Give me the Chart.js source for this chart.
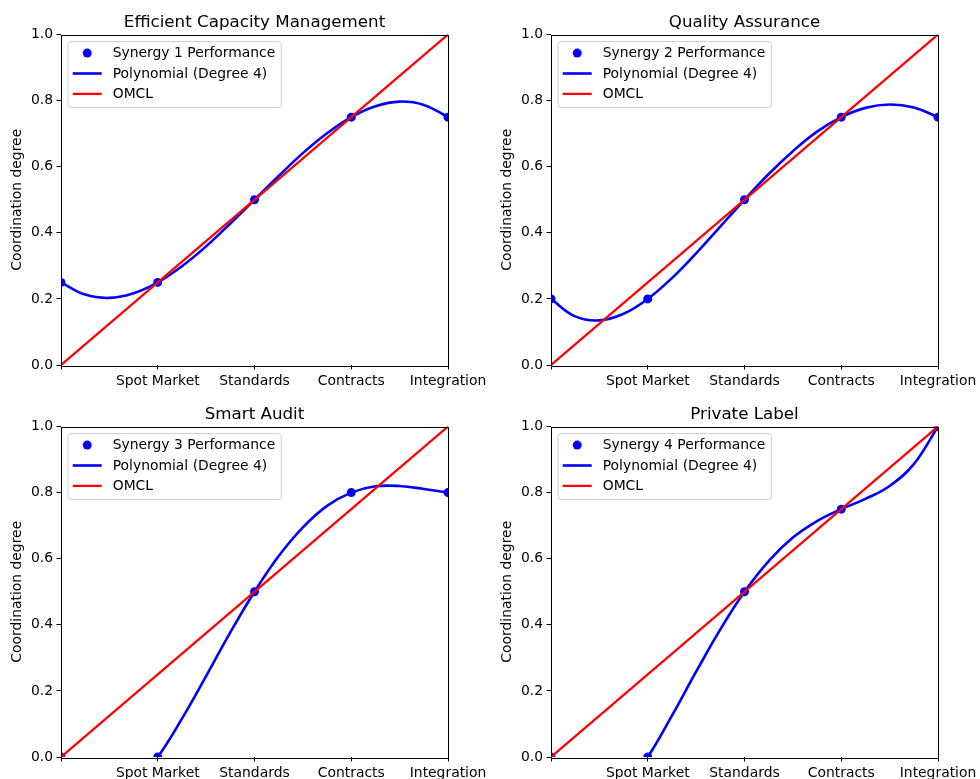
<!DOCTYPE html>
<html>
<head>
    <meta charset="utf-8">
    <script src="https://cdn.jsdelivr.net/npm/chart.js"></script>
    <style>
        body { margin: 0; background: #fff; }
        #wrap { position: relative; width: 980px; height: 779px; }
        #wrap canvas { position: absolute; }
    </style>
</head>
<body>
<div id="wrap">
    <canvas id="c1" width="490" height="390" style="left:0px;top:0px"></canvas>
    <canvas id="c2" width="490" height="390" style="left:490px;top:0px"></canvas>
    <canvas id="c3" width="490" height="390" style="left:0px;top:392px"></canvas>
    <canvas id="c4" width="490" height="390" style="left:490px;top:392px"></canvas>
</div>
<script>
    // categories on the x axis (tick at 0 has no label)
    const xTickLabels = ['', 'Spot Market', 'Standards', 'Contracts', 'Integration'];
    const yTicks = [0, 0.2, 0.4, 0.6, 0.8, 1.0];
    const panelTitles = ['Efficient Capacity Management', 'Quality Assurance', 'Smart Audit', 'Private Label'];
    const seriesNames = ['Synergy 1 Performance', 'Synergy 2 Performance', 'Synergy 3 Performance', 'Synergy 4 Performance'];

    // observed points
    const pointX = [0, 1, 2, 3, 4];
    const synergy1 = [0.25, 0.25, 0.5, 0.75, 0.75];
    const synergy2 = [0.2, 0.2, 0.5, 0.75, 0.75];
    const synergy3 = [0, 0, 0.5, 0.8, 0.8];
    const synergy4 = [0, 0, 0.5, 0.75, 1.0];

    // degree 4 curve, every quarter step
    const fitX = [0, 0.25, 0.5, 0.75, 1, 1.25, 1.5, 1.75, 2, 2.25, 2.5, 2.75, 3, 3.25, 3.5, 3.75, 4];
    const fit1 = [0.25, 0.213, 0.203, 0.217, 0.25, 0.299, 0.359, 0.428, 0.5, 0.572, 0.641, 0.701, 0.75, 0.783, 0.797, 0.787, 0.75];
    const fit2 = [0.2, 0.147, 0.135, 0.155, 0.2, 0.263, 0.338, 0.419, 0.5, 0.578, 0.647, 0.706, 0.75, 0.778, 0.788, 0.779, 0.75];
    const fit3 = [0, -0.108, -0.130, -0.087, 0, 0.116, 0.245, 0.377, 0.5, 0.608, 0.695, 0.760, 0.8, 0.819, 0.820, 0.811, 0.8];
    const fit4 = [0, -0.126, -0.148, -0.098, 0, 0.125, 0.258, 0.386, 0.5, 0.593, 0.664, 0.714, 0.75, 0.781, 0.820, 0.886, 1.0];

    // OMCL reference line
    const omclX = [0, 4];
    const omclY = [0, 1];

    const pointSets = [synergy1, synergy2, synergy3, synergy4];
    const fitSets = [fit1, fit2, fit3, fit4];

    const FONT = "'DejaVu Sans', sans-serif";
    const BLUE = '#0000ff';
    const RED = '#ff0000';

    // box around the axes, drawn over the lines like matplotlib spines
    const framePlugin = {
        id: 'axesFrame',
        afterDatasetsDraw(chart) {
            const { ctx, chartArea: a } = chart;
            ctx.save();
            ctx.strokeStyle = '#000';
            ctx.lineWidth = 1;
            ctx.strokeRect(Math.round(a.left) + 0.5, Math.round(a.top) + 0.5,
                Math.round(a.right - a.left), Math.round(a.bottom - a.top));
            ctx.restore();
        }
    };

    // title centred over the axes, not over the canvas
    const axesTitlePlugin = {
        id: 'axesTitle',
        afterDraw(chart, args, opts) {
            const { ctx, chartArea: a } = chart;
            ctx.save();
            ctx.font = '16.7px ' + FONT;
            ctx.fillStyle = '#000';
            ctx.textAlign = 'center';
            ctx.textBaseline = 'alphabetic';
            ctx.fillText(opts.text, (a.left + a.right) / 2, 26.5);
            ctx.restore();
        }
    };

    // legend box in the upper left corner of the axes
    const legendPlugin = {
        id: 'innerLegend',
        afterDraw(chart) {
            const { ctx, chartArea: a } = chart;
            const ds = chart.data.datasets;
            ctx.save();
            ctx.font = '13.9px ' + FONT;
            let maxW = 0;
            ds.forEach(d => { maxW = Math.max(maxW, ctx.measureText(d.label).width); });
            const x0 = a.left + 7, y0 = a.top + 7;
            const w = 44.7 + maxW + 6, h = 66;
            ctx.beginPath();
            ctx.roundRect(x0, y0, w, h, 3);
            ctx.fillStyle = 'rgba(255,255,255,0.8)';
            ctx.fill();
            ctx.strokeStyle = '#d0d0d0';
            ctx.lineWidth = 1;
            ctx.stroke();
            ds.forEach((d, i) => {
                const cy = y0 + 11.6 + i * 20.4;
                if (d.showLine) {
                    ctx.beginPath();
                    ctx.moveTo(x0 + 4.7, cy);
                    ctx.lineTo(x0 + 33.7, cy);
                    ctx.strokeStyle = d.borderColor;
                    ctx.lineWidth = d.borderWidth;
                    ctx.stroke();
                } else {
                    ctx.beginPath();
                    ctx.arc(x0 + 19.2, cy, 4.5, 0, Math.PI * 2);
                    ctx.fillStyle = d.backgroundColor;
                    ctx.fill();
                }
                ctx.fillStyle = '#000';
                ctx.textBaseline = 'middle';
                ctx.textAlign = 'left';
                ctx.fillText(d.label, x0 + 44.7, cy + 0.5);
            });
            ctx.restore();
        }
    };

    function makeChart(id, k) {
        const data = {
            datasets: [
                {
                    label: seriesNames[k],
                    data: pointX.map((x, i) => ({ x: x, y: pointSets[k][i] })),
                    showLine: false,
                    pointRadius: 4.5,
                    pointBorderWidth: 0,
                    backgroundColor: BLUE,
                    borderColor: BLUE,
                    order: 3,
                    clip: 0
                },
                {
                    label: 'Polynomial (Degree 4)',
                    data: fitX.map((x, i) => ({ x: x, y: fitSets[k][i] })),
                    showLine: true,
                    pointRadius: 0,
                    borderColor: BLUE,
                    borderWidth: 2.6,
                    tension: 0.4,
                    order: 2,
                    clip: 0
                },
                {
                    label: 'OMCL',
                    data: omclX.map((x, i) => ({ x: x, y: omclY[i] })),
                    showLine: true,
                    pointRadius: 0,
                    borderColor: RED,
                    borderWidth: 2.3,
                    order: 1,
                    clip: 0
                }
            ]
        };

        const config = {
            type: 'scatter',
            data: data,
            options: {
                responsive: false,
                animation: false,
                devicePixelRatio: 1,
                layout: { padding: { left: 0, right: 42, top: 34.5, bottom: 0 } },
                elements: { line: { capBezierPoints: false } },
                plugins: {
                    legend: { display: false },
                    tooltip: { enabled: false },
                    title: { display: false },
                    axesTitle: { text: panelTitles[k] }
                },
                scales: {
                    x: {
                        type: 'linear',
                        min: 0,
                        max: 4,
                        afterFit: s => { s.height = 25; },
                        afterBuildTicks: s => { s.ticks = xTickLabels.map((_, i) => ({ value: i })); },
                        ticks: {
                            autoSkip: false,
                            maxRotation: 0,
                            padding: 3.5,
                            color: '#000',
                            font: { family: FONT, size: 13.9 },
                            callback: v => xTickLabels[v]
                        },
                        grid: { display: true, drawOnChartArea: false, drawTicks: true, tickLength: 4.5, color: '#000' },
                        border: { display: false }
                    },
                    y: {
                        min: 0,
                        max: 1,
                        afterFit: s => { s.width = 61; },
                        afterBuildTicks: s => { s.ticks = yTicks.map(v => ({ value: v })); },
                        ticks: {
                            padding: 3.5,
                            color: '#000',
                            font: { family: FONT, size: 13.9 },
                            callback: v => Number(v).toFixed(1)
                        },
                        grid: { display: true, drawOnChartArea: false, drawTicks: true, tickLength: 4.5, color: '#000' },
                        border: { display: false },
                        title: {
                            display: true,
                            text: 'Coordination degree',
                            color: '#000',
                            font: { family: FONT, size: 13.9 },
                            padding: { top: 9, bottom: 0 }
                        }
                    }
                }
            },
            plugins: [framePlugin, axesTitlePlugin, legendPlugin]
        };

        return new Chart(document.getElementById(id), config);
    }

    makeChart('c1', 0);
    makeChart('c2', 1);
    makeChart('c3', 2);
    makeChart('c4', 3);
</script>
</body>
</html>
